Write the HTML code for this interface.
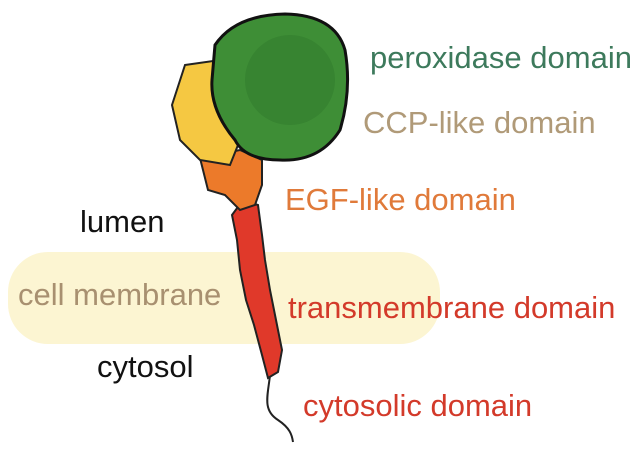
<!DOCTYPE html>
<html><head><style>
body{margin:0;background:#fff;}
svg{display:block;}
text{font-family:"Liberation Sans",sans-serif;font-size:31px;}
</style></head><body>
<svg width="644" height="461" viewBox="0 0 644 461">
<rect x="8" y="252" width="432" height="92" rx="40" fill="#fcf5d2"/>
<path d="M270 375 C268 395 262 410 278 420 C290 428 292 435 293 442" stroke="#222" stroke-width="2" fill="none"/>
<path d="M243 200 L258 205 L262 235 L265 260 L270 290 L276 320 L282 350 L278 372 L268 378 L262 355 L254 325 L246 300 L240 270 L237 240 L232 215 Z" fill="#e0392a" stroke="#222" stroke-width="2"/>
<path d="M200 158 L240 150 L262 160 L262 185 L255 205 L240 210 L225 195 L208 190 Z" fill="#ec7a2a" stroke="#222" stroke-width="2"/>
<path d="M185 65 L220 60 L240 80 L240 140 L230 165 L200 160 L180 140 L172 105 Z" fill="#f5c842" stroke="#222" stroke-width="2"/>
<path d="M215 45 Q235 15 285 14 Q335 15 345 50 Q352 90 340 130 Q320 162 280 160 Q245 160 235 140 Q210 110 212 80 Z" fill="#3e8e36" stroke="#111" stroke-width="3"/>
<ellipse cx="290" cy="80" rx="45" ry="45" fill="#2f7a2b" opacity="0.5"/>
<text x="370" y="68" fill="#3d7a5c">peroxidase domain</text>
<text x="363" y="133" fill="#b09a78">CCP-like domain</text>
<text x="285" y="210" fill="#e07a3a">EGF-like domain</text>
<text x="80" y="232" fill="#111" font-size="29">lumen</text>
<text x="18" y="305" fill="#a89070">cell membrane</text>
<text x="288" y="318" fill="#d33a2a">transmembrane domain</text>
<text x="97" y="377" fill="#111" font-size="29">cytosol</text>
<text x="303" y="416" fill="#d33a2a">cytosolic domain</text>
</svg>
</body></html>
